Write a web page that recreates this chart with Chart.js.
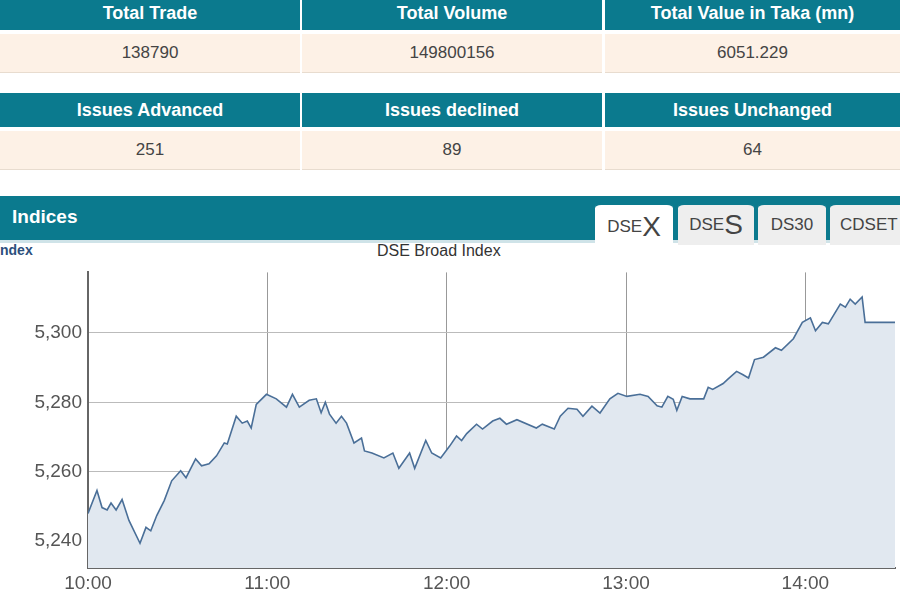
<!DOCTYPE html>
<html><head><meta charset="utf-8">
<script src="https://cdn.jsdelivr.net/npm/chart.js@4"></script>
<style>
body{margin:0;width:900px;height:600px;overflow:hidden;background:#fff;font-family:Arial,"Liberation Sans",sans-serif;position:relative}
.hd{position:absolute;height:34px;background:#0b7a8e;color:#fff;font-weight:bold;font-size:18px;display:flex;align-items:center;justify-content:center}
.vl{position:absolute;height:38px;background:#fdf1e6;color:#444;font-size:17px;display:flex;align-items:center;justify-content:center;border-bottom:1px solid #e8dccf}
.tab{position:absolute;top:202px;height:40px;background:#eee;border-top:3px solid #0b7a8e;border-radius:6px 6px 0 0;color:#444;font-size:17px;display:flex;align-items:center;justify-content:center}
</style></head><body>
<div id="tables"></div>
<div style="position:absolute;left:0;top:196px;width:900px;height:44px;background:#0b7a8e;border-bottom:3px solid #cfe3e8"></div>
<div style="position:absolute;left:12px;top:206px;color:#fff;font-weight:bold;font-size:19px">Indices</div>
<div class="tab" style="left:595px;width:78px;background:#fff;height:44px">DSE<span style="font-size:28px">X</span></div>
<div class="tab" style="left:678px;width:76px">DSE<span style="font-size:28px">S</span></div>
<div class="tab" style="left:758px;width:68px">DS30</div>
<div class="tab" style="left:830px;width:80px;justify-content:flex-start;padding-left:10px">CDSET</div>
<div style="position:absolute;left:0;top:242px;color:#2c4f7c;font-weight:bold;font-size:14px">ndex</div>
<div style="position:absolute;left:377px;top:242px;color:#333;font-size:16px">DSE Broad Index</div>
<div style="position:absolute;left:0;top:255px;width:900px;height:345px"><canvas id="c"></canvas></div>
<script>
const headers1=["Total Trade","Total Volume","Total Value in Taka (mn)"];
const values1=["138790","149800156","6051.229"];
const headers2=["Issues Advanced","Issues declined","Issues Unchanged"];
const values2=["251","89","64"];
const minutes=[0,3,4.7,6.4,7.7,9.4,11.4,13.7,17.4,19.4,21,23,25.5,28,31,32.8,36,38,40.5,43,45.6,46.6,49.6,51.6,53.3,54.6,56.3,59.7,63,66.4,68.4,70.7,74,76.4,78,79.4,80.8,83,84.8,86.5,89,91.5,92.5,95,99,102,104,107.6,109.3,113,115,118,121,123.3,125,126.7,130,132,135.4,137.8,140,143.5,150,152,156,158,160.6,163.6,165.6,168.6,171.3,174.6,177.3,180.3,184.7,187.4,190.4,192,194,195.8,197,198.8,201.4,206,207.5,209,212.5,214,217,219,221,223,226,230,232,236,239,241.7,243.4,245.7,247.7,251.7,253.4,255,256.7,259,260,270];
const index=[5248,5254.6,5249.7,5249,5251,5249,5252,5246,5239.4,5244,5243,5247.4,5251.7,5257.4,5260.3,5258.3,5263.7,5261.7,5262.3,5264.6,5268.3,5268,5276,5274,5274.6,5272.6,5279.4,5282.3,5281,5278.6,5282.3,5278.6,5280.6,5281,5277,5280,5276.6,5274,5276,5274,5268.3,5269.7,5266,5265.4,5264,5265.4,5261,5265.4,5261,5269,5265.4,5264,5267.4,5270.3,5269,5271,5273.7,5272.3,5274.6,5275.4,5273.7,5275,5272.6,5273.7,5272.3,5276,5278.3,5278,5276,5278.9,5276.9,5281,5282.6,5281.7,5282.3,5281.7,5279,5278.6,5281.7,5280.9,5277.7,5281.7,5281,5281,5284.3,5283.7,5285.4,5286.6,5288.9,5288,5287,5292.3,5293,5295.7,5295,5298.3,5303,5304.3,5300.6,5303,5302.6,5308.3,5307.4,5309.7,5308.3,5310.3,5303,5303];
const yTicks=[5240,5260,5280,5300];
const xTickLabels={0:"10:00",60:"11:00",120:"12:00",180:"13:00",240:"14:00"};

const cols=[[0,300],[302,300],[605,295]];
let h='';
[[headers1,values1,0],[headers2,values2,97]].forEach(([hs,vs,t])=>{
  cols.forEach(([l,w],i)=>{
    h+=`<div class="hd" style="left:${l}px;width:${w}px;top:${t-4}px">${hs[i]}</div>`;
    h+=`<div class="vl" style="left:${l}px;width:${w}px;top:${t+34}px">${vs[i]}</div>`;
  });
});
document.getElementById('tables').innerHTML=h;

new Chart(document.getElementById('c'),{
  type:'line',
  data:{datasets:[{data:minutes.map((m,i)=>({x:m,y:index[i]})),borderColor:'#4a6f98',borderWidth:1.6,backgroundColor:'#e1e8f0',fill:'start',pointRadius:0,tension:0}]},
  options:{responsive:true,maintainAspectRatio:false,animation:false,
    layout:{padding:{top:15,right:5,left:0,bottom:0}},
    plugins:{legend:{display:false},tooltip:{enabled:false}},
    scales:{
      x:{type:'linear',min:0,max:270,
        afterBuildTicks:s=>{s.ticks=Object.keys(xTickLabels).map(v=>({value:+v}));},
        afterFit:s=>{s.height=32;},
        ticks:{callback:v=>xTickLabels[v]||'',color:'#555',font:{size:19,family:'Arial'},padding:4,maxRotation:0},
        grid:{color:'#999',lineWidth:1,drawTicks:false},border:{color:'#666',width:2}},
      y:{min:5232.3,max:5317.4,
        afterBuildTicks:s=>{s.ticks=yTicks.map(v=>({value:v}));},
        afterFit:s=>{s.width=88;},
        ticks:{color:'#555',font:{size:19,family:'Arial'},padding:6},
        grid:{color:'#bbb',lineWidth:1,drawTicks:false},border:{color:'#666',width:2}}
    }}
});
</script></body></html>
